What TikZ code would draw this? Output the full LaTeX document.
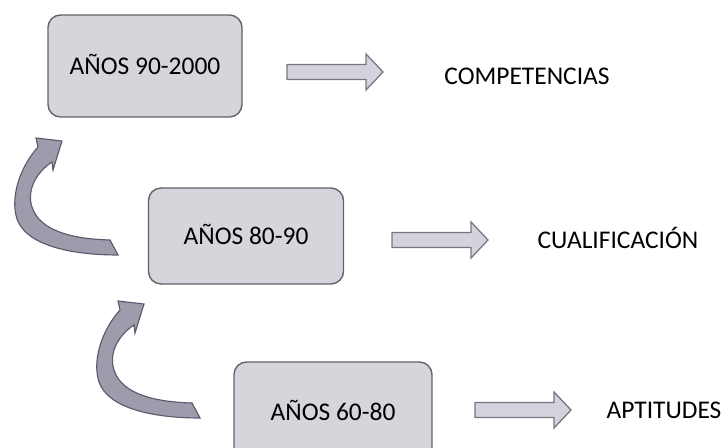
\documentclass[tikz,border=0pt]{standalone}
\usepackage{fontspec}
\setmainfont{Carlito}
\definecolor{boxfill}{HTML}{D5D5DB}
\definecolor{boxline}{HTML}{62626C}
\definecolor{curvefill}{HTML}{9C9CAC}
\definecolor{curveline}{HTML}{5A5A6E}
\definecolor{barrowfill}{HTML}{D3D3DD}
\definecolor{barrowline}{HTML}{76767F}
\begin{document}
\begin{tikzpicture}[x=0.025cm,y=0.025cm,
  yearbox/.style={draw=boxline, fill=boxfill, line width=1pt, rounded corners=9pt, rectangle, align=center, inner sep=0pt, text height=11.7pt, text depth=0pt, font=\fontsize{18.1}{22}\selectfont},
  outcome/.style={align=center, inner sep=0pt, text height=11.7pt, text depth=0pt, font=\fontsize{18.1}{22}\selectfont},
  blockarrow/.pic={
    \filldraw[fill=barrowfill, draw=barrowline, line width=0.9pt] (0,-7.5) -- (79,-7.5) -- (79,-18) -- (96,0) -- (79,18) -- (79,7.5) -- (0,7.5) -- cycle;},
  curvedarrow/.pic={
    \filldraw[fill=curvefill, draw=curveline, line width=0.8pt]
      (110,207) .. controls (75,208) and (40,215) .. (32,240)
      .. controls (26,258) and (38,276) .. (52,285)
      -- (53,277) -- (62,306) -- (36,309) -- (38,300)
      .. controls (20,280) and (10,250) .. (17,228)
      .. controls (26,202) and (70,192) .. (118,192)
      -- cycle;}]
\useasboundingbox (0,0) rectangle (727,447);
\clip (0,0) rectangle (727,447);
% periods
\node[yearbox, minimum width=4.85cm, minimum height=2.55cm] (y90) at (145,381) {AÑOS 90-2000};
\node[yearbox, minimum width=4.875cm, minimum height=2.4cm] (y80) at (246,211) {AÑOS 80-90};
\node[yearbox, minimum width=4.95cm, minimum height=2.5cm] (y60) at (333,35) {AÑOS 60-80};
% outcomes
\node[outcome] (comp) at (527,371) {COMPETENCIAS};
\node[outcome] (cual) at (618,206.5) {CUALIFICACIÓN};
\node[outcome] (apti) at (664,36.5) {APTITUDES};
% arrows
\pic (a90) at (287,375) {blockarrow};
\pic (a80) at (392,207) {blockarrow};
\pic (a60) at (475,37) {blockarrow};
\pic (c80) at (0,0) {curvedarrow};
\pic (c60) at (82,-163) {curvedarrow};
\end{tikzpicture}
\end{document}
